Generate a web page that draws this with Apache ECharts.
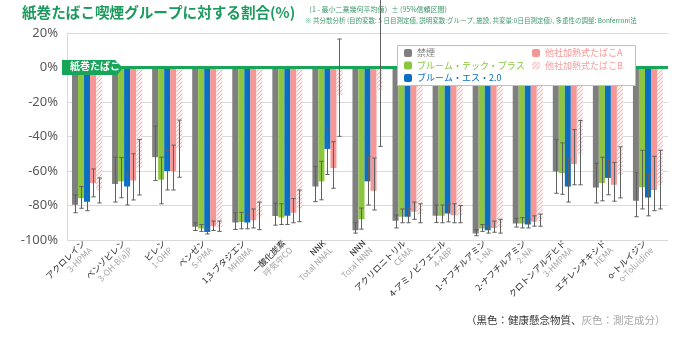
<!DOCTYPE html>
<html><head><meta charset="utf-8">
<script src="https://cdn.jsdelivr.net/npm/echarts@6/dist/echarts.min.js"></script>
<style>html,body{margin:0;padding:0;background:#fff}#c{width:700px;height:341px}</style>
</head><body><div id="c"></div>
<script>
const categoriesJa = ['アクロレイン','ベンゾピレン','ピレン','ベンゼン','1,3-ブタジエン','一酸化炭素','NNK','NNN','アクリロニトリル','4-アミノビフェニル','1-ナフチルアミン','2-ナフチルアミン','クロトンアルデヒド','エチレンオキシド','o-トルイジン'];
const categoriesEn = ['3-HPMA','3-OH-B[a]P','1-OHP','S-PMA','MHBMA','呼気中CO','Total NNAL','Total NNN','CEMA','4-ABP','1-NA','2-NA','3-HMPMA','HEMA','o-Toluidine'];
const yTicks = [-100,-80,-60,-40,-20,0,20];
const seriesNames = ['禁煙','ブルーム・テック・プラス','ブルーム・エス・2.0','他社加熱式たばこA','他社加熱式たばこB'];

const cessation     = [-79.5,-67.5,-52,-92.3,-89.8,-86.1,-69,-94.3,-88.9,-85.9,-96.2,-90.4,-60.3,-69.6,-77.2];
const cessationLow  = [-84.2,-78,-65.5,-94.5,-93.9,-91.4,-77.8,-96,-93,-89.9,-97.5,-92.5,-72.9,-78.5,-86.5];
const cessationHigh = [-73.9,-52,-34,-90,-84.2,-78.7,-57.4,-90,-85.5,-79.7,-94,-87.5,-41.8,-55.5,-61];

const ptp     = [-75.8,-66,-65,-93.3,-89.6,-87,-66,-87.9,-86.5,-86,-93.3,-90.4,-61.2,-67,-69.4];
const ptpLow  = [-81.6,-75.5,-79,-95,-93.5,-91,-76.7,-93.7,-90,-90,-95,-93,-73.5,-77.3,-82];
const ptpHigh = [-69,-52.2,-52,-91,-84,-79,-54.4,-81.5,-82,-79.7,-91,-87,-43.7,-52,-48];

const pns     = [-77.8,-69,-60,-95.3,-89.9,-86,-47.2,-66,-86.5,-84.6,-94.3,-91,-69,-64,-75.4];
const pnsLow  = [-83,-79.7,-71,-96.5,-93.5,-91,-62,-79.7,-90,-89.5,-96,-93,-78,-73.8,-86];
const pnsHigh = [-72.9,-61,-48,-93.5,-85,-80,-35,-51.5,-82,-79,-92,-88,-53,-53.6,-62];

const otherA     = [-67,-65.5,-60,-92,-88.5,-84.2,-58.3,-71.5,-83.6,-85.6,-93,-89.4,-56,-68,-71];
const otherALow  = [-75,-76.8,-71,-94.5,-93,-90,-70,-82.6,-88,-90,-95.5,-92,-68,-77.5,-83];
const otherAHigh = [-58.8,-50,-45,-89,-82,-76,-43,-52.5,-78,-79,-89,-86,-36,-55,-51.5];

const otherB     = [-71,-58,-47,-92.5,-87,-82,-16,-13,-85,-86,-92.6,-89,-50,-62,-68];
const otherBLow  = [-78.5,-73.9,-63.6,-95,-94,-89.4,-39.9,-45.7,-90,-90,-96,-92,-68,-75.6,-82];
const otherBHigh = [-64,-41.8,-30.5,-89,-78,-71,16.5,40,-79,-80,-88,-85,-30.7,-46,-48];

const values = [cessation, ptp, pns, otherA, otherB];
const lows = [cessationLow, ptpLow, pnsLow, otherALow, otherBLow];
const highs = [cessationHigh, ptpHigh, pnsHigh, otherAHigh, otherBHigh];

// hatch pattern
const pc = document.createElement('canvas');
pc.width = 4; pc.height = 4;
const pctx = pc.getContext('2d');
pctx.fillStyle = '#fdeded'; pctx.fillRect(0,0,4,4);
pctx.fillStyle = '#f5b3b3';
for (let i=0;i<4;i++){ pctx.fillRect(i,3-i,1,1); }
const hatch = {image: pc, repeat: 'repeat'};

const colors = ['#7f7f7f','#8cc63f','#0a6fc2','#f79696', hatch];
const textColors = ['#7f7f7f','#8cc63f','#0a6fc2','#f79696','#f2a0a0'];
const catGap = 0.25;

const chart = echarts.init(document.getElementById('c'), null, {renderer:'canvas'});
const series = [];
values.forEach((v,i)=>{
  const s = {
    name: seriesNames[i], type:'bar', data: v, barGap:'0%', barCategoryGap:(catGap*100)+'%',
    itemStyle:{color: colors[i]}, z:2
  };
  if (i===0) {
    s.markLine = {silent:true, symbol:'none', label:{show:false},
      lineStyle:{color:'#17a55a', width:3, type:'solid'}, data:[{yAxis:0}], z:5};
  }
  series.push(s);
});
values.forEach((v,i)=>{
  series.push({
    type:'custom', name:'err'+i, z:6, clip:false,
    data: v.map((_,k)=>[k, lows[i][k], highs[i][k]]),
    renderItem:(params, api)=>{
      const c = api.value(0);
      const lo = api.coord([c, api.value(1)]);
      const hi = api.coord([c, api.value(2)]);
      const band = api.size([1,0])[0];
      const bw = band*(1-catGap)/5;
      const x = Math.round(lo[0] + (i-2)*bw) + 0.5;
      const cap = 2.2;
      const st = {stroke:'#606060', lineWidth:1};
      return {type:'group', children:[
        {type:'line', shape:{x1:x,y1:hi[1],x2:x,y2:lo[1]}, style:st},
        {type:'line', shape:{x1:x-cap,y1:hi[1],x2:x+cap,y2:hi[1]}, style:st},
        {type:'line', shape:{x1:x-cap,y1:lo[1],x2:x+cap,y2:lo[1]}, style:st}
      ]};
    }
  });
});

const legendCommon = {
  orient:'vertical', itemGap:2.5, itemWidth:8, itemHeight:8, padding:0, z:12,
  textStyle:{fontSize:9, lineHeight:10, fontFamily:'Noto Sans CJK JP'}
};

chart.setOption({
  animation:false,
  grid:{left:67, right:32, top:33, bottom:101, containLabel:false},
  legend:[
    Object.assign({}, legendCommon, {left:404, top:48,
      data: seriesNames.slice(0,3).map((n,i)=>({name:n, textStyle:{color:textColors[i]}}))}),
    Object.assign({}, legendCommon, {left:532, top:48,
      data: seriesNames.slice(3).map((n,i)=>({name:n, textStyle:{color:textColors[i+3]}}))})
  ],
  xAxis:{
    type:'category', data: categoriesJa,
    axisLine:{lineStyle:{color:'#d9d9d9'}}, axisTick:{show:false},
    axisLabel:{interval:0, rotate:45, margin:5,
      formatter:(val, idx)=>'{ja|'+val+'}\n{en|'+categoriesEn[idx]+'}',
      rich:{ja:{color:'#222', fontSize:8.5, fontFamily:'Noto Sans CJK JP', lineHeight:10},
            en:{color:'#a6a6a6', fontSize:8.5, fontFamily:'Noto Sans CJK JP', lineHeight:10}}}
  },
  yAxis:{
    type:'value', min:yTicks[0], max:yTicks[yTicks.length-1], interval:20,
    axisLine:{show:true, lineStyle:{color:'#d9d9d9'}}, axisTick:{show:false},
    splitLine:{lineStyle:{color:'#d9d9d9'}},
    axisLabel:{formatter:'{value}%', color:'#595959', fontSize:13, fontFamily:'Noto Sans', margin:9}
  },
  graphic:[
    {type:'text', left:22, top:5, style:{text:'紙巻たばこ喫煙グループに対する割合(%)', fill:'#1a9a5c', font:'bold 14.6px "Noto Sans CJK JP"'}},
    {type:'text', left:305, top:6, style:{text:'（1 - 最小二乗幾何平均値）± (95%信頼区間)', fill:'#3c9a6a', font:'7px "Noto Sans CJK JP"'}},
    {type:'text', left:305, top:17, style:{text:'※ 共分散分析 (目的変数: 5 日目測定値, 説明変数:グループ, 施設, 共変量:0日目測定値), 多重性の調整: Bonferroni法', fill:'#3c9a6a', font:'6.5px "Noto Sans CJK JP"'}},
    {type:'rect', z:10, shape:{x:397.5, y:45.5, width:238, height:40}, style:{fill:'#fff', stroke:'#bfbfbf', lineWidth:1}},
    {type:'polygon', z:20, shape:{points:[[62,60],[115,60],[123,68],[117,75],[62,75]]}, style:{fill:'#17a55a'}},
    {type:'text', z:21, left:70, top:61, style:{text:'紙巻たばこ', fill:'#fff', font:'bold 10px "Noto Sans CJK JP"'}},
    {type:'text', left:466, top:315, style:{text:'{a|（黒色：健康懸念物質、}{b|灰色：測定成分）}',
      rich:{a:{fill:'#333', font:'10.5px "Noto Sans CJK JP"'}, b:{fill:'#a6a6a6', font:'10.5px "Noto Sans CJK JP"'}}}}
  ],
  series: series
});
</script></body></html>
